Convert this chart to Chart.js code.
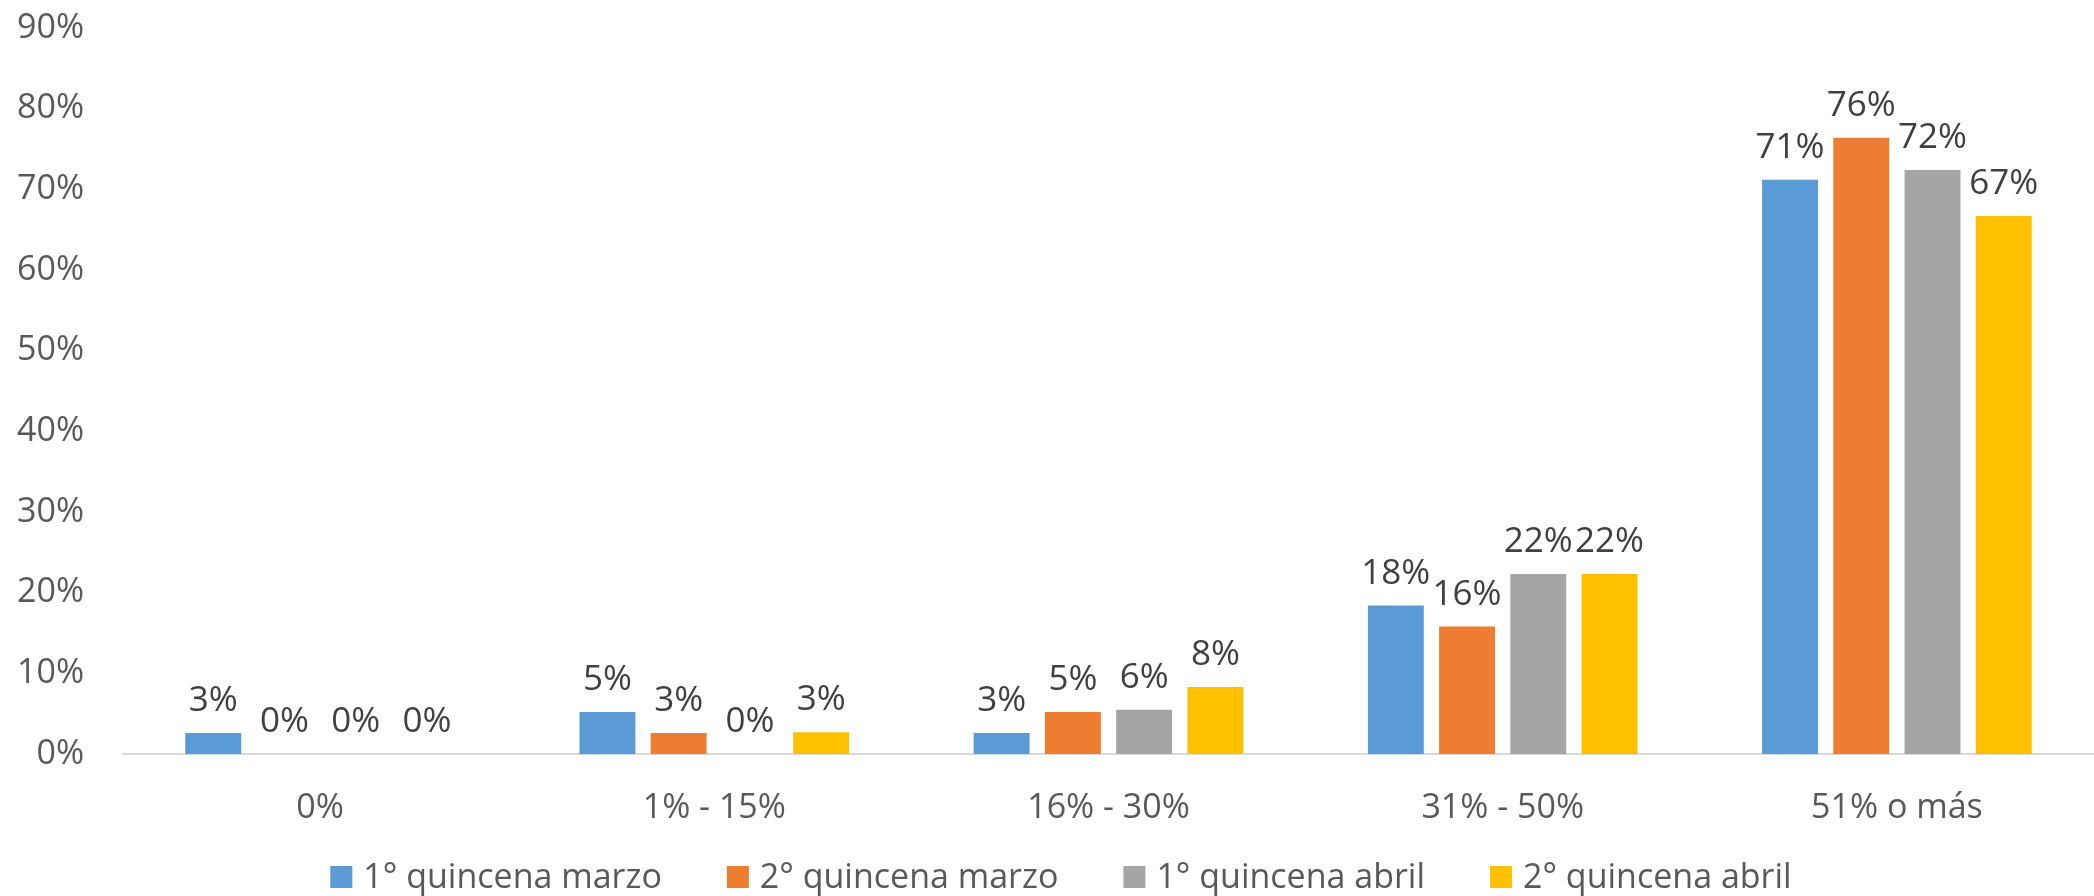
<!DOCTYPE html>
<html>
<head>
<meta charset="utf-8">
<script src="https://cdn.jsdelivr.net/npm/chart.js@4"></script>
<style>
  html, body { margin: 0; padding: 0; background: #fff; }
  #wrap { width: 2094px; height: 896px; }
</style>
</head>
<body>
<div id="wrap"><canvas id="myChart"></canvas></div>
<script>
const categories = ['0%', '1% - 15%', '16% - 30%', '31% - 50%', '51% o más'];
const seriesNames = ['1° quincena marzo', '2° quincena marzo', '1° quincena abril', '2° quincena abril'];
const marzo1 = [2.6, 5.2, 2.6, 18.4, 71.2];
const marzo2 = [0, 2.6, 5.2, 15.8, 76.4];
const abril1 = [0, 0, 5.5, 22.3, 72.4];
const abril2 = [0, 2.7, 8.3, 22.3, 66.7];
const colors = ['#5B9BD5', '#ED7D31', '#A5A5A5', '#FFC000'];

const FONT = "'Open Sans', 'Noto Sans', sans-serif";

// value labels above each bar
const barLabels = {
  id: 'barLabels',
  afterDatasetsDraw(chart) {
    const ctx = chart.ctx;
    ctx.save();
    ctx.font = '35px ' + FONT;
    ctx.fillStyle = '#404040';
    ctx.textAlign = 'center';
    ctx.textBaseline = 'alphabetic';
    chart.data.datasets.forEach((ds, i) => {
      chart.getDatasetMeta(i).data.forEach((bar, j) => {
        ctx.fillText(Math.round(ds.data[j]) + '%', bar.x, bar.y - 22);
      });
    });
    ctx.restore();
  }
};

// legend row along the bottom
const bottomLegend = {
  id: 'bottomLegend',
  afterDraw(chart) {
    const ctx = chart.ctx;
    ctx.save();
    ctx.font = '34px ' + FONT;
    const box = 22, gap = 11, spacing = 65;
    const items = chart.data.datasets.map(ds => ({
      text: ds.label, color: ds.backgroundColor, w: box + gap + ctx.measureText(ds.label).width
    }));
    const total = items.reduce((s, it) => s + it.w, 0) + spacing * (items.length - 1);
    let x = 1061 - total / 2;
    const cy = 877;
    ctx.textBaseline = 'middle';
    ctx.textAlign = 'left';
    items.forEach(it => {
      ctx.fillStyle = it.color;
      ctx.fillRect(x, cy - box / 2, box, box);
      ctx.fillStyle = '#595959';
      ctx.fillText(it.text, x + box + gap, cy + 1);
      x += it.w + spacing;
    });
    ctx.restore();
  }
};

const allSeries = [marzo1, marzo2, abril1, abril2];

new Chart(document.getElementById('myChart'), {
  type: 'bar',
  data: {
    labels: categories,
    datasets: allSeries.map((vals, i) => ({
      label: seriesNames[i],
      data: vals,
      backgroundColor: colors[i],
      categoryPercentage: 0.723,
      barPercentage: 0.785
    }))
  },
  options: {
    responsive: true,
    maintainAspectRatio: false,
    animation: false,
    layout: { padding: { top: 28, right: 0, bottom: 68, left: 0 } },
    plugins: {
      legend: { display: false },
      tooltip: { enabled: false }
    },
    scales: {
      x: {
        grid: { display: false, drawTicks: false },
        border: { display: true, color: '#D9D9D9', width: 2 },
        ticks: { color: '#595959', font: { size: 34, family: FONT }, padding: 34 },
        afterFit(scale) {
          scale.height = 74;
          scale.paddingLeft = scale.paddingRight = 0;
        }
      },
      y: {
        min: 0,
        max: 90,
        grid: { display: false, drawTicks: false },
        border: { display: false },
        ticks: {
          stepSize: 10,
          color: '#595959',
          font: { size: 34, family: FONT },
          padding: 39,
          callback: v => v + '%'
        },
        afterFit(scale) {
          scale.width = 123;
          scale.paddingTop = scale.paddingBottom = 0;
        }
      }
    }
  },
  plugins: [barLabels, bottomLegend]
});
</script>
</body>
</html>
